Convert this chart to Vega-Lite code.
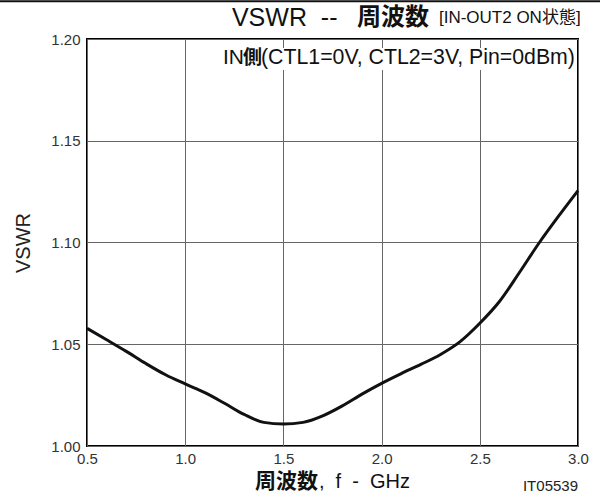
{
  "$schema": "https://vega.github.io/schema/vega-lite/v6.json",
  "autosize": {"type": "none"},
  "padding": {"left": 87, "top": 39, "right": 22, "bottom": 51},
  "width": 491,
  "height": 407,
  "background": "white",
  "config": {
    "view": {"stroke": "black", "strokeWidth": 2},
    "font": "Liberation Sans",
    "axis": {
      "gridColor": "#666666",
      "gridWidth": 1,
      "gridOpacity": 1,
      "tickSize": 0,
      "domain": false,
      "labelFont": "Liberation Sans",
      "labelFontSize": 15,
      "labelColor": "#333333",
      "titleFont": "Liberation Sans",
      "titleFontWeight": "normal",
      "titleColor": "#222222"
    }
  },
  "datasets": {
    "curve": [
      {"f": 0.5, "vswr": 1.0578},
      {"f": 0.6, "vswr": 1.0522},
      {"f": 0.7, "vswr": 1.0465},
      {"f": 0.8, "vswr": 1.0405},
      {"f": 0.9, "vswr": 1.0350},
      {"f": 1.0, "vswr": 1.0305},
      {"f": 1.1, "vswr": 1.0262},
      {"f": 1.2, "vswr": 1.0210},
      {"f": 1.3, "vswr": 1.0155},
      {"f": 1.4, "vswr": 1.0116},
      {"f": 1.5, "vswr": 1.0108},
      {"f": 1.6, "vswr": 1.0116},
      {"f": 1.7, "vswr": 1.0148},
      {"f": 1.8, "vswr": 1.0197},
      {"f": 1.9, "vswr": 1.0255},
      {"f": 2.0, "vswr": 1.0308},
      {"f": 2.1, "vswr": 1.0356},
      {"f": 2.2, "vswr": 1.0401},
      {"f": 2.3, "vswr": 1.0450},
      {"f": 2.4, "vswr": 1.0513},
      {"f": 2.5, "vswr": 1.0603},
      {"f": 2.6, "vswr": 1.0710},
      {"f": 2.7, "vswr": 1.0850},
      {"f": 2.8, "vswr": 1.0995},
      {"f": 2.9, "vswr": 1.1128},
      {"f": 3.0, "vswr": 1.1255}
    ],
    "one": [{}]
  },
  "layer": [
    {
      "data": {"name": "curve"},
      "mark": {"type": "line", "color": "#111111", "strokeWidth": 3, "interpolate": "monotone"},
      "encoding": {
        "x": {
          "field": "f", "type": "quantitative",
          "scale": {"domain": [0.5, 3.0], "nice": false, "zero": false},
          "axis": {"values": [0.5, 1.0, 1.5, 2.0, 2.5, 3.0], "format": ".1f", "title": null, "labelPadding": 5, "labelFlush": false}
        },
        "y": {
          "field": "vswr", "type": "quantitative",
          "scale": {"domain": [1.0, 1.2], "nice": false, "zero": false},
          "axis": {"values": [1.0, 1.05, 1.1, 1.15, 1.2], "format": ".2f", "title": "VSWR", "titleFontSize": 20, "titlePadding": 17, "labelPadding": 7, "labelFlush": false}
        }
      }
    },
    {
      "data": {"name": "one"},
      "mark": {"type": "rect", "fill": "white"},
      "encoding": {
        "x": {"datum": 1.15, "type": "quantitative"},
        "x2": {"datum": 2.995},
        "y": {"datum": 1.1956, "type": "quantitative"},
        "y2": {"datum": 1.1848}
      }
    },
    {
      "data": {"name": "one"},
      "mark": {"type": "text", "text": "IN", "align": "left", "baseline": "middle", "font": "Liberation Sans", "fontSize": 21, "color": "#111111"},
      "encoding": {"x": {"datum": 1.1925, "type": "quantitative"}, "y": {"datum": 1.1905, "type": "quantitative"}}
    },
    {
      "data": {"name": "one"},
      "mark": {"type": "text", "text": "側", "align": "left", "baseline": "middle", "font": "Noto Sans CJK JP", "fontWeight": "bold", "fontSize": 19, "color": "#111111"},
      "encoding": {"x": {"datum": 1.294, "type": "quantitative"}, "y": {"datum": 1.1905, "type": "quantitative"}}
    },
    {
      "data": {"name": "one"},
      "mark": {"type": "text", "text": "(CTL1=0V, CTL2=3V, Pin=0dBm)", "align": "left", "baseline": "middle", "font": "Liberation Sans", "fontSize": 21.3, "color": "#111111"},
      "encoding": {"x": {"datum": 1.386, "type": "quantitative"}, "y": {"datum": 1.1905, "type": "quantitative"}}
    },
    {
      "data": {"name": "one"},
      "mark": {"type": "text", "text": "VSWR\u00a0\u00a0--", "align": "left", "baseline": "middle", "font": "Liberation Sans", "fontSize": 25, "color": "#111111"},
      "encoding": {"x": {"datum": 1.238, "type": "quantitative"}, "y": {"datum": 1.2103, "type": "quantitative"}}
    },
    {
      "data": {"name": "one"},
      "mark": {"type": "text", "text": "周波数", "align": "left", "baseline": "middle", "font": "Noto Sans CJK JP", "fontWeight": "bold", "fontSize": 24, "color": "#111111"},
      "encoding": {"x": {"datum": 1.875, "type": "quantitative"}, "y": {"datum": 1.2103, "type": "quantitative"}}
    },
    {
      "data": {"name": "one"},
      "mark": {"type": "text", "text": "[IN-OUT2 ON状態]", "align": "left", "baseline": "middle", "font": "Liberation Sans, Noto Sans CJK JP", "fontSize": 17, "color": "#111111"},
      "encoding": {"x": {"datum": 2.292, "type": "quantitative"}, "y": {"datum": 1.2103, "type": "quantitative"}}
    },
    {
      "data": {"name": "one"},
      "mark": {"type": "rule", "color": "#111111", "strokeWidth": 2},
      "encoding": {
        "x": {"datum": 0.05, "type": "quantitative"},
        "x2": {"datum": 3.12},
        "y": {"datum": 1.2185, "type": "quantitative"}
      }
    },
    {
      "data": {"name": "one"},
      "mark": {"type": "text", "text": "周波数", "align": "left", "baseline": "middle", "font": "Noto Sans CJK JP", "fontWeight": "bold", "fontSize": 21, "color": "#111111"},
      "encoding": {"x": {"datum": 1.355, "type": "quantitative"}, "y": {"datum": 0.9823, "type": "quantitative"}}
    },
    {
      "data": {"name": "one"},
      "mark": {"type": "text", "text": ",\u00a0\u00a0f\u00a0\u00a0-\u00a0\u00a0GHz", "align": "left", "baseline": "middle", "font": "Liberation Sans", "fontSize": 20, "color": "#111111"},
      "encoding": {"x": {"datum": 1.681, "type": "quantitative"}, "y": {"datum": 0.9823, "type": "quantitative"}}
    },
    {
      "data": {"name": "one"},
      "mark": {"type": "text", "text": "IT05539", "align": "right", "baseline": "middle", "font": "Liberation Sans", "fontSize": 15, "color": "#222222"},
      "encoding": {"x": {"datum": 3.0, "type": "quantitative"}, "y": {"datum": 0.9803, "type": "quantitative"}}
    }
  ]
}
